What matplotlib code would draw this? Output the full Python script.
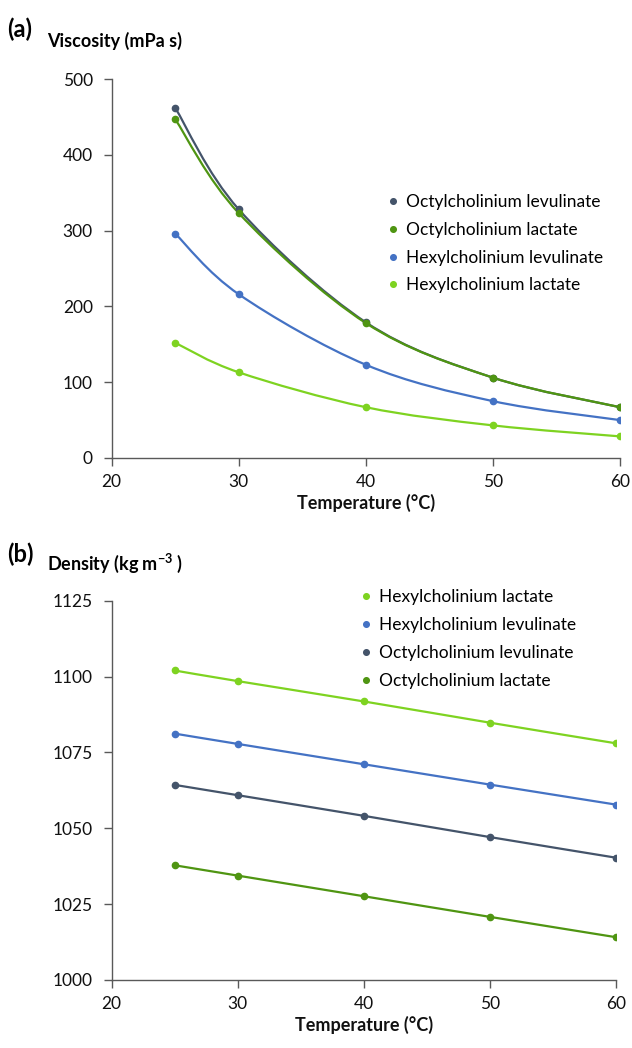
import numpy as np
import matplotlib
matplotlib.use('Agg')
import matplotlib.pyplot as plt
from matplotlib.path import Path
from matplotlib.patches import PathPatch

plt.rcParams['font.family'] = ['Lato', 'DejaVu Sans']
plt.rcParams['mathtext.fontset'] = 'custom'
plt.rcParams['mathtext.rm'] = 'Lato:bold'
plt.rcParams['mathtext.default'] = 'rm'

# data
temps = [25, 30, 40, 50, 60]

visc_octyl_lev = [462, 328, 179, 106, 67]
visc_octyl_lac = [447, 323, 178, 106, 67]
visc_hexyl_lev = [296, 216, 123, 75, 50]
visc_hexyl_lac = [152, 113, 67, 43, 28.5]

dens_hexyl_lac = [1102.0, 1098.5, 1091.8, 1084.8, 1078.0]
dens_hexyl_lev = [1081.2, 1077.8, 1071.1, 1064.4, 1057.8]
dens_octyl_lev = [1064.3, 1060.9, 1054.1, 1047.1, 1040.3]
dens_octyl_lac = [1037.8, 1034.4, 1027.6, 1020.8, 1014.1]

C_OCT_LEV = '#44546a'
C_OCT_LAC = '#4f9512'
C_HEX_LEV = '#4472c4'
C_HEX_LAC = '#7ed321'
AX_COL = '#595959'


def smooth_path(x, y):
    """Excel-like smoothed line: cubic bezier through the points."""
    p = np.column_stack([x, y]).astype(float)
    n = len(p)
    verts = [p[0]]
    codes = [Path.MOVETO]
    for i in range(n - 1):
        p0 = p[i - 1] if i > 0 else p[i]
        p3 = p[i + 2] if i + 2 < n else p[i + 1]
        c1 = p[i] + (p[i + 1] - p0) / 6.0
        c2 = p[i + 1] - (p3 - p[i]) / 6.0
        verts += [c1, c2, p[i + 1]]
        codes += [Path.CURVE4] * 3
    return Path(verts, codes)


def draw_series(ax, x, y, color, label):
    ax.add_patch(PathPatch(smooth_path(x, y), fc='none', ec=color, lw=1.6,
                           transform=ax.transData, zorder=2))
    ax.plot(x, y, 'o', color=color, ms=4.5, zorder=3, label=label)


def style_axes(ax):
    for s in ['top', 'right']:
        ax.spines[s].set_visible(False)
    for s in ['left', 'bottom']:
        ax.spines[s].set_color(AX_COL)
        ax.spines[s].set_linewidth(1.0)
    ax.tick_params(colors=AX_COL, labelcolor='#111111', labelsize=12.5,
                   length=5.5, width=1.0, direction='out', pad=8)
    ax.tick_params(axis='x', pad=6)
    ax.set_xlim(20, 60)
    ax.set_xticks([20, 30, 40, 50, 60])
    ax.set_xlabel('Temperature (°C)', fontsize=13, fontweight='bold',
                  labelpad=3, color='#111111')


fig = plt.figure(figsize=(6.32, 10.48), dpi=100)

# (a) viscosity
ax1 = fig.add_axes([0.1767, 0.563, 0.8043, 0.3616])
draw_series(ax1, temps, visc_octyl_lev, C_OCT_LEV, 'Octylcholinium levulinate')
draw_series(ax1, temps, visc_octyl_lac, C_OCT_LAC, 'Octylcholinium lactate')
draw_series(ax1, temps, visc_hexyl_lev, C_HEX_LEV, 'Hexylcholinium levulinate')
draw_series(ax1, temps, visc_hexyl_lac, C_HEX_LAC, 'Hexylcholinium lactate')
ax1.set_ylim(0, 500)
ax1.set_yticks([0, 100, 200, 300, 400, 500])
style_axes(ax1)
ax1.legend(loc='upper left', bbox_to_anchor=(0.53, 0.715), frameon=False,
           fontsize=12.5, handlelength=0.6, handletextpad=0.45,
           labelspacing=0.68, borderaxespad=0, markerscale=0.9)

fig.text(0.011, 0.972, '(a)', fontsize=17, fontweight='bold', va='center')
fig.text(0.074, 0.961, 'Viscosity (mPa s)', fontsize=13, fontweight='bold',
         va='center')

# (b) density
ax2 = fig.add_axes([0.1767, 0.0649, 0.798, 0.3619])
draw_series(ax2, temps, dens_hexyl_lac, C_HEX_LAC, 'Hexylcholinium lactate')
draw_series(ax2, temps, dens_hexyl_lev, C_HEX_LEV, 'Hexylcholinium levulinate')
draw_series(ax2, temps, dens_octyl_lev, C_OCT_LEV, 'Octylcholinium levulinate')
draw_series(ax2, temps, dens_octyl_lac, C_OCT_LAC, 'Octylcholinium lactate')
ax2.set_ylim(1000, 1125)
ax2.set_yticks([1000, 1025, 1050, 1075, 1100, 1125])
style_axes(ax2)
ax2.legend(loc='upper left', bbox_to_anchor=(0.48, 1.048), frameon=False,
           fontsize=12.5, handlelength=0.6, handletextpad=0.45,
           labelspacing=0.68, borderaxespad=0, markerscale=0.9)

fig.text(0.011, 0.471, '(b)', fontsize=17, fontweight='bold', va='center')
fig.text(0.074, 0.462, 'Density (kg m$^{-3}$ )', fontsize=13,
         fontweight='bold', va='center')

fig.savefig('out.png', dpi=100)
